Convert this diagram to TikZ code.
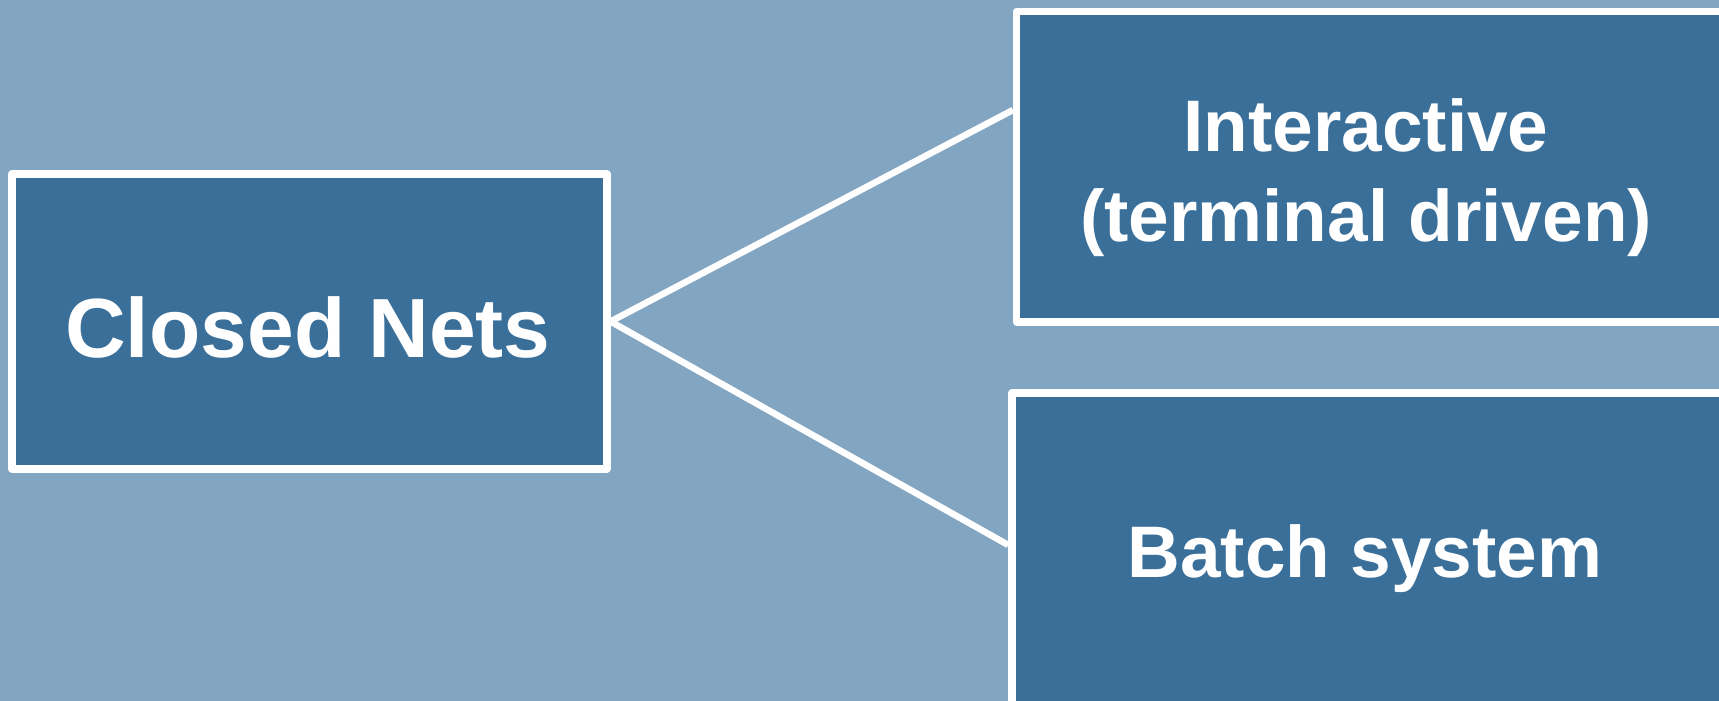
\documentclass[tikz,border=0pt]{standalone}
\usepackage{fontspec}
\setmainfont{Liberation Sans}
\definecolor{bgblue}{RGB}{130,165,194}
\definecolor{boxblue}{RGB}{58,111,154}
\begin{document}
\begin{tikzpicture}[x=1pt,y=-1pt,
  box/.style={draw=white,fill=boxblue,line width=7.5pt,rectangle,inner sep=0pt,
    line join=round},
  label/.style={text=white,font=\bfseries,inner sep=0pt,align=center},
  link/.style={draw=white,line width=6.5pt}]
  \useasboundingbox (0,0) rectangle (1719,701);
  \fill[bgblue] (0,0) rectangle (1719,701);
  \begin{scope}
    \clip (0,0) rectangle (1719,701);
    % the three boxes
    \node[box,minimum width=595pt,minimum height=295pt] (cn) at (309.3,321.5) {};
    \node[box,minimum width=710pt,minimum height=310.7pt] (ia) at (1371.7,166.7) {};
    \node[box,minimum width=715pt,minimum height=312pt] (bs) at (1369.5,549) {};
    % their captions
    \node[label,anchor=base,font=\bfseries\fontsize{84}{100}\selectfont] (cnt) at (308,357) {Closed Nets};
    \node[label,anchor=base,font=\bfseries\fontsize{73}{90}\selectfont] (iat) at (1366,241) {Interactive\\(terminal driven)};
    \node[label,anchor=base,font=\bfseries\fontsize{73}{90}\selectfont] (bst) at (1365,577.8) {Batch system};
    % connectors
    \draw[link] (cn.east) -- (ia.west |- 0,110);
    \draw[link] (cn.east) -- (bs.west |- 0,545);
  \end{scope}
\end{tikzpicture}
\end{document}
